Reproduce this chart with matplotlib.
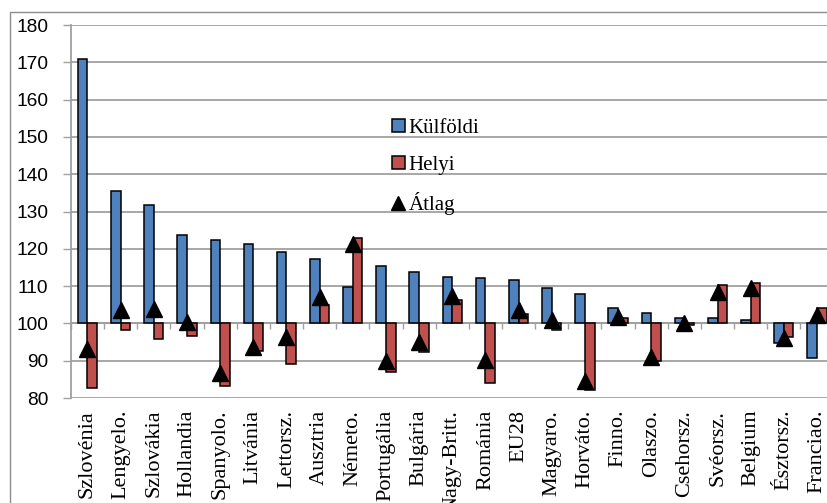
import matplotlib
matplotlib.use("Agg")
import matplotlib.pyplot as plt
import numpy as np
from matplotlib.patches import Patch, Rectangle
from matplotlib.lines import Line2D

# data (index, 100 = base)
Countries = ["Szlovénia", "Lengyelo.", "Szlovákia", "Hollandia", "Spanyolo.", "Litvánia",
             "Lettorsz.", "Ausztria", "Németo.", "Portugália", "Bulgária", "Nagy-Britt.",
             "Románia", "EU28", "Magyaro.", "Horváto.", "Finno.", "Olaszo.", "Csehorsz.",
             "Svéorsz.", "Belgium", "Észtorsz.", "Franciao."]
Kulfoldi = [170.8, 135.5, 131.7, 123.6, 122.4, 121.2, 119.1, 117.2, 109.8, 115.4, 113.9, 112.4,
            112.1, 111.6, 109.6, 107.9, 104.2, 102.9, 101.4, 101.4, 100.9, 94.7, 90.6]
Helyi = [82.6, 98.2, 95.7, 96.6, 83.2, 92.7, 89.0, 104.9, 123.0, 86.9, 92.3, 106.3,
         83.9, 102.5, 98.2, 82.1, 101.4, 90.0, 99.6, 110.3, 110.9, 96.4, 104.0]
Atlag = [93.1, 103.6, 103.9, 100.5, 86.8, 93.7, 96.4, 107.2, 121.2, 90.0, 95.1, 107.3,
         90.2, 103.6, 100.9, 84.5, 101.8, 90.9, 100.0, 108.3, 109.4, 96.0, 102.3]
Y_Ticks = [80, 90, 100, 110, 120, 130, 140, 150, 160, 170, 180]
Base = 100

Blue = "#4F81BD"
Red = "#C0504D"
Grey = "#a0a0a0"

fig = plt.figure(figsize=(8.27, 5.03), dpi=100)
# plot area runs a little past the right edge, like the cropped original
ax = fig.add_axes([70.9 / 827, 105 / 503, 762.7 / 827, 373 / 503])

x = np.arange(len(Countries))
w = 0.29
ax.bar(x - w / 2, np.array(Kulfoldi) - Base, width=w, bottom=Base, color=Blue,
       edgecolor="black", linewidth=1.1, zorder=3)
ax.bar(x + w / 2, np.array(Helyi) - Base, width=w, bottom=Base, color=Red,
       edgecolor="black", linewidth=1.1, zorder=3)
ax.plot(x, Atlag, linestyle="none", marker="^", markersize=12, color="black", zorder=4)

ax.set_xlim(-0.5, len(Countries) - 0.5)
ax.set_ylim(80, 180)
ax.set_yticks(Y_Ticks)
ax.yaxis.grid(True, color=Grey, linewidth=1.3, zorder=0)
ax.set_axisbelow(True)
ax.tick_params(axis="y", length=5.8, width=1, color=Grey, pad=10.5)
for lab in ax.get_yticklabels():
    lab.set_fontfamily("Liberation Sans")
    lab.set_fontsize(13.8)

# horizontal axis crosses at 100
ax.spines["bottom"].set_position(("data", Base))
ax.spines["bottom"].set_color(Grey)
ax.spines["bottom"].set_linewidth(1.3)
ax.spines["left"].set_color(Grey)
ax.spines["left"].set_linewidth(1.3)
ax.spines["top"].set_visible(False)
ax.spines["right"].set_visible(False)
ax.set_xticks(np.arange(len(Countries) + 1) - 0.5)
ax.set_xticklabels([])
ax.tick_params(axis="x", length=4.3, width=1, color=Grey, direction="out")

# category names sit under the 80 line
sec = ax.secondary_xaxis("bottom")
sec.set_xticks(x)
sec.set_xticklabels(Countries, rotation=90, fontfamily="Liberation Serif", fontsize=16)
sec.tick_params(length=0, pad=8.5)
sec.spines["bottom"].set_visible(False)

handles = [Patch(facecolor=Blue, edgecolor="black", linewidth=1.1),
           Patch(facecolor=Red, edgecolor="black", linewidth=1.1),
           Line2D([], [], linestyle="none", marker="^", markersize=10, color="black")]
fig.legend(handles, ["Külföldi", "Helyi", "Átlag"], loc="upper left",
           bbox_to_anchor=(392 / 827, 1 - 119 / 503), frameon=False,
           prop={"family": "Liberation Serif", "size": 15},
           handlelength=0.6, handleheight=0.6, handletextpad=0.2,
           labelspacing=0.85, borderpad=0, borderaxespad=0)

# outer chart frame
fig.add_artist(Rectangle((10 / 827, -0.05), 1.2, (503 - 12) / 503 + 0.05,
                         transform=fig.transFigure, fill=False,
                         edgecolor="#8c8c8c", linewidth=1))

fig.savefig("out.png", dpi=100)
